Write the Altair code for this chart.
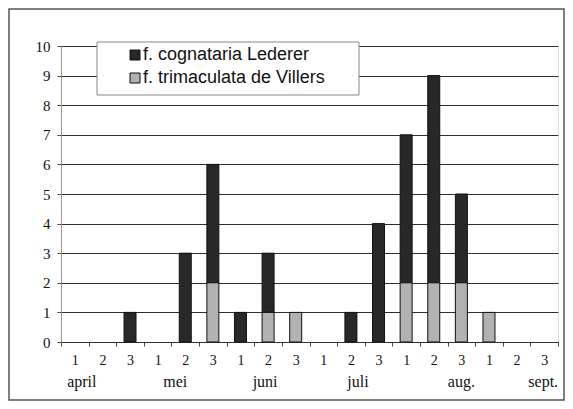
import altair as alt
import pandas as pd

months = ["april", "mei", "juni", "juli", "aug.", "sept."]
decades = ["1", "2", "3"]
series = ["f. cognataria Lederer", "f. trimaculata de Villers"]
cognataria = [0, 0, 1, 0, 3, 4, 1, 2, 0, 0, 1, 4, 5, 7, 3, 0, 0, 0]
trimaculata = [0, 0, 0, 0, 0, 2, 0, 1, 1, 0, 0, 0, 2, 2, 2, 1, 0, 0]
colors = ["#282828", "#b2b2b2"]

# month label anchors (decade under which the label sits) and pixel nudge
month_anchor = ["1", "2", "2", "2", "3", "3"]
month_dx = [7, -10, -3, 7, 0, -1]

W, H = 497, 296

cats = [f"{m}|{d}" for m in months for d in decades]
rows = []
for i, c in enumerate(cats):
    rows.append({"cat": c, "series": series[0], "value": cognataria[i], "ord": 1})
    rows.append({"cat": c, "series": series[1], "value": trimaculata[i], "ord": 0})
df = pd.DataFrame(rows)

xscale = alt.Scale(domain=cats, paddingInner=0, paddingOuter=0)
x_enc = alt.X(
    "cat:N", scale=xscale, title=None,
    axis=alt.Axis(
        labelExpr="split(datum.value, '|')[1]", labelAngle=0,
        labelFont="Liberation Serif", labelFontSize=14, labelColor="#111",
        labelPadding=7, tickBand="extent", tickSize=4, tickColor="#444",
        domainColor="#333", grid=False,
    ),
)

bars = alt.Chart(df).transform_filter("datum.value > 0").mark_bar(
    size=12, stroke="#111", strokeWidth=1
).encode(
    x=x_enc,
    y=alt.Y(
        "sum(value):Q", title=None,
        scale=alt.Scale(domain=[0, 10]),
        axis=alt.Axis(
            values=list(range(11)), labelFont="Liberation Serif", labelFontSize=15,
            labelColor="#111", labelPadding=7, tickSize=4, tickColor="#444",
            domainColor="#999", gridColor="#2e2e2e", gridWidth=1,
        ),
    ),
    color=alt.Color("series:N", scale=alt.Scale(domain=series, range=colors), legend=None),
    order=alt.Order("ord:Q"),
)

layers = [bars]
for m, a, dx in zip(months, month_anchor, month_dx):
    mdf = pd.DataFrame({"cat": [f"{m}|{a}"], "label": [m]})
    layers.append(
        alt.Chart(mdf).mark_text(
            font="Liberation Serif", fontSize=16, color="#111", dx=dx,
            baseline="alphabetic", align="center",
        ).encode(x=alt.X("cat:N", scale=xscale), y=alt.value(H + 45), text="label:N")
    )

one = pd.DataFrame({"k": [0]})
frame = alt.Chart(one).mark_rect(filled=False, stroke="#555", strokeWidth=1.5).encode(
    x=alt.value(-52), x2=alt.value(503), y=alt.value(-37), y2=alt.value(354)
)
legbox = alt.Chart(one).mark_rect(fill="white", stroke="#888", strokeWidth=1).encode(
    x=alt.value(36), x2=alt.value(298), y=alt.value(-4), y2=alt.value(49)
)
leg_y = [9, 32]
leg_layers = []
for s, col, yy in zip(series, colors, leg_y):
    sdf = pd.DataFrame({"series": [s]})
    leg_layers.append(
        alt.Chart(sdf).mark_square(size=100, stroke="#111", strokeWidth=1, fill=col, opacity=1).encode(
            x=alt.value(74), y=alt.value(yy)
        )
    )
    leg_layers.append(
        alt.Chart(sdf).mark_text(
            font="Liberation Sans", fontSize=18, color="#111", align="left", baseline="middle"
        ).encode(x=alt.value(82), y=alt.value(yy), text="series:N")
    )

chart = alt.layer(frame, *layers, legbox, *leg_layers).properties(
    width=W, height=H,
    autosize=alt.AutoSizeParams(type="none"),
    padding={"left": 53, "top": 38, "right": 7, "bottom": 59},
).configure_view(stroke=None).configure(background="white")

chart.save("out.html", embed_options={"renderer": "svg", "actions": False})
